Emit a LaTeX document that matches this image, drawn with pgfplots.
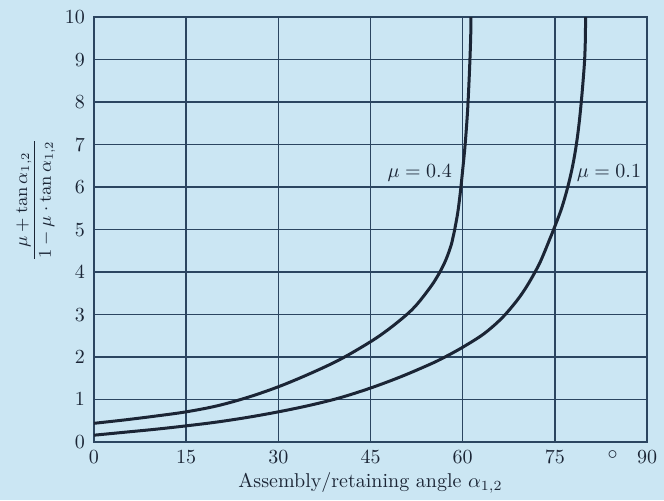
\documentclass[border=0pt]{standalone}
\usepackage{amsmath}
\usepackage{pgfplots}
\pgfplotsset{compat=1.18}
\definecolor{bgc}{HTML}{CBE6F3}
\definecolor{gridc}{HTML}{2B4560}
\definecolor{curvec}{HTML}{1B2535}
\begin{document}
\begin{tikzpicture}
\fill[bgc] (-47pt,-29pt) rectangle (285pt,221pt);
\begin{axis}[
  at={(0pt,0pt)}, anchor=south west,
  scale only axis, width=276.5pt, height=212.4pt,
  xmin=0, xmax=90, ymin=0, ymax=10,
  xtick={0,15,30,45,60,75,90},
  ytick={0,1,...,10},
  extra x ticks={84.4},
  extra x tick labels={\raisebox{0.6ex}{$\circ$}},
  extra x tick style={grid=none, major tick length=0pt},
  grid=major,
  major grid style={draw=gridc, line width=0.7pt},
  axis line style={draw=gridc, line width=0.9pt},
  major tick length=0pt,
  tick label style={text=curvec, font=\normalsize},
  xticklabel style={yshift=-1pt},
  yticklabel style={xshift=-1pt},
  xlabel={Assembly/retaining angle $\alpha_{1,2}$},
  xlabel style={text=curvec, yshift=3pt},
  ylabel={$\dfrac{\mu+\tan\alpha_{1,2}}{1-\mu\cdot\tan\alpha_{1,2}}$},
  ylabel style={text=curvec, at={(ticklabel cs:0.57)}, yshift=-2pt, font=\small},
]
\addplot[curvec, line width=1.5pt, smooth, tension=0.55] coordinates {
(0,0.44)(5,0.52)(10,0.61)(15,0.71)(20,0.85)(25,1.05)(30,1.30)(35,1.60)(40,1.94)(45,2.36)(48,2.66)(50.9,3.0)(52.5,3.23)(54,3.50)(55.3,3.76)(56.4,4.03)(57.3,4.3)(58.1,4.62)(58.4,4.8)(58.7,5.0)(59.2,5.4)(59.6,5.85)(60.0,6.4)(60.4,7.0)(60.8,7.8)(61.1,8.7)(61.3,9.5)(61.35,10)
};
\addplot[curvec, line width=1.5pt, smooth, tension=0.55] coordinates {
(0,0.16)(5,0.23)(10,0.30)(15,0.38)(20,0.47)(25,0.58)(30,0.71)(35,0.86)(40,1.04)(45,1.27)(50,1.54)(55,1.85)(57.5,2.03)(60,2.23)(63,2.50)(65,2.73)(66.6,2.95)(68,3.18)(69.3,3.42)(70.5,3.68)(71.7,3.98)(72.6,4.23)(73.4,4.5)(74.1,4.75)(74.8,5.0)(76.1,5.5)(77.1,6.0)(77.9,6.5)(78.5,7.0)(78.95,7.5)(79.3,8.0)(79.6,8.5)(79.85,9.0)(79.97,9.5)(80.0,10)
};
\node[text=curvec, fill=bgc, inner sep=1pt] at (axis cs:53.0,6.33) {$\mu = 0.4$};
\node[text=curvec, fill=bgc, inner sep=1pt] at (axis cs:83.8,6.33) {$\mu = 0.1$};
\end{axis}
\end{tikzpicture}
\end{document}
